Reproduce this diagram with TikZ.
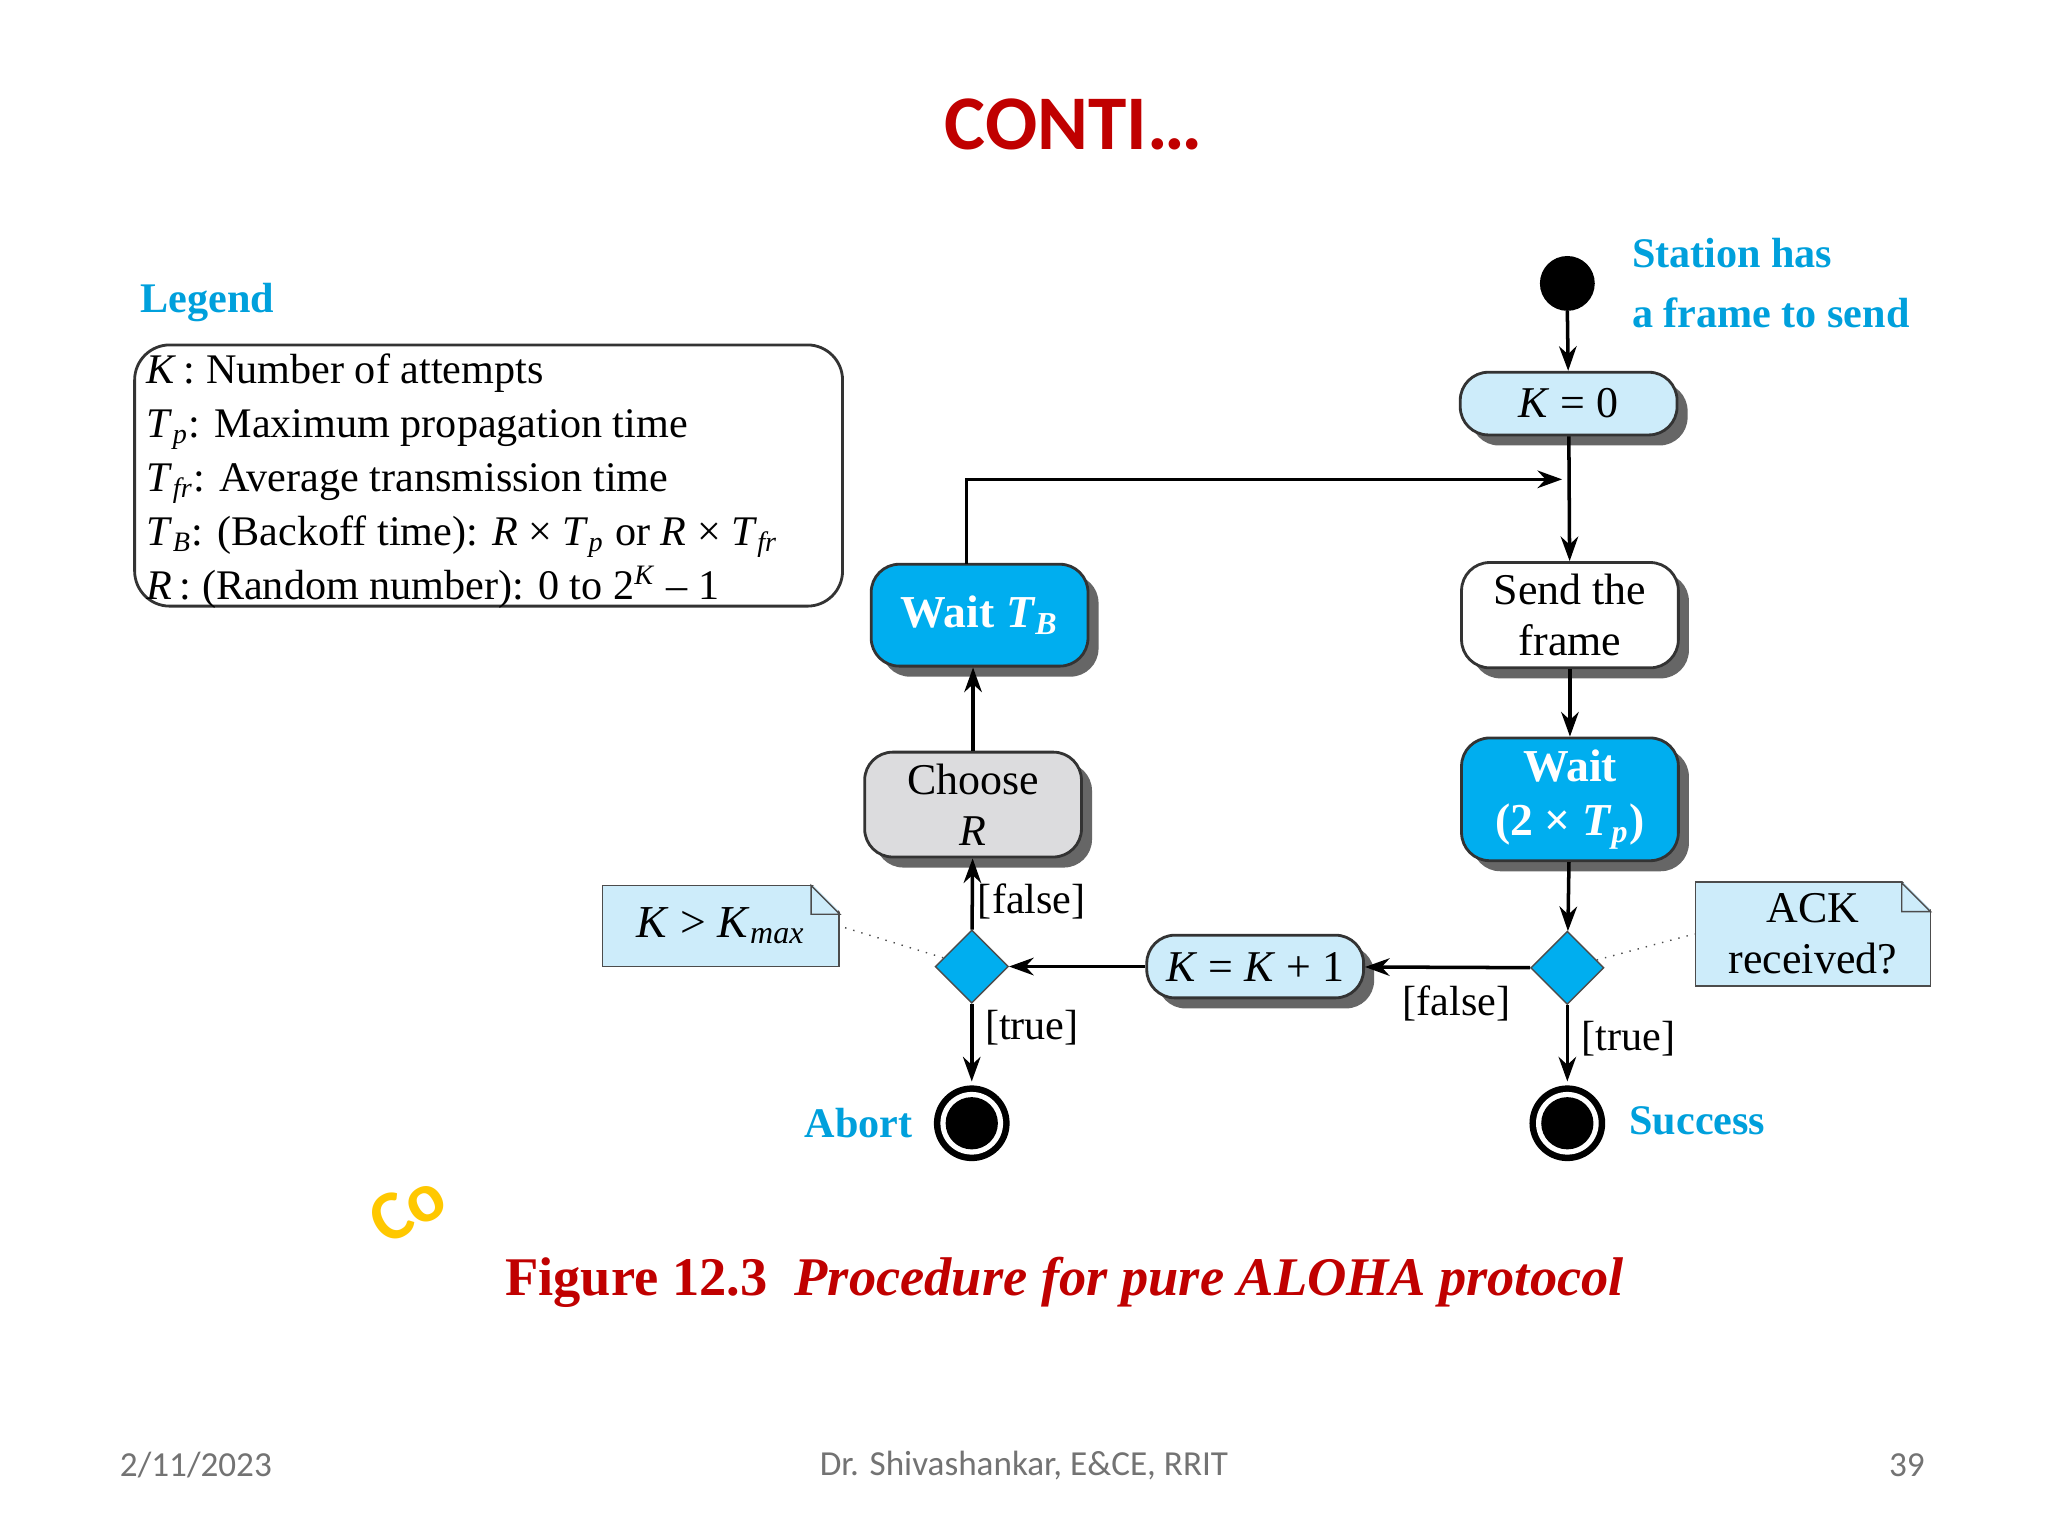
\documentclass[tikz,border=0pt]{standalone}
\usepackage{fontspec}
\setmainfont{Liberation Serif}
\newfontfamily\calfnt{Carlito}
\usetikzlibrary{shapes.geometric,shadows,arrows.meta}
\definecolor{cy}{RGB}{0,174,239}
\definecolor{lb}{RGB}{205,236,250}
\definecolor{dred}{RGB}{192,0,0}
\definecolor{lgray}{RGB}{220,220,222}
\definecolor{cyt}{RGB}{0,160,220}
\newcommand{\mi}[1]{\textit{#1}}
\newcommand{\sbs}[1]{\textsubscript{\textit{#1}}}
\begin{document}
\begin{tikzpicture}[x=0.01306cm,y=-0.01306cm,
 box/.style={draw=black!80,line width=0.8pt,rounded corners=8pt,minimum width=166*0.01306cm,align=center,font=\fontsize{12.5}{14.5}\selectfont,drop shadow={shadow xshift=3pt,shadow yshift=-3pt,fill=black!60,opacity=1}},
 arr/.style={-{Stealth[length=7pt,width=5pt]},line width=1pt},
 lbl/.style={font=\fontsize{12}{14}\selectfont},
 note/.style={draw=black!70,fill=lb,font=\fontsize{12.5}{14.5}\selectfont,align=center},
 dia/.style={diamond,draw=black!70,fill=cy,minimum width=56*0.01306cm,minimum height=56*0.01306cm,inner sep=0},
 cyl/.style={text=cyt,font=\fontsize{12}{14}\bfseries\selectfont}]
\useasboundingbox (0,0) rectangle (1568,1176);
\fill[white] (0,0) rectangle (1568,1176);
\node (title) at (822,95) {\calfnt\bfseries\fontsize{22}{26}\selectfont\color{dred}CONTI\ldots};
% legend
\node[cyl,anchor=west] (legt) at (98,232) {Legend};
\node[draw=black!80,line width=0.8pt,rounded corners=10pt,anchor=north west,minimum width=542*0.01306cm,minimum height=200*0.01306cm,inner sep=0] (leg) at (102,263) {};
\node[anchor=north west,align=left,font=\fontsize{12}{14.4}\selectfont,inner sep=0] (legtxt) at (112,270) {%
\mi{K}\,: Number of attempts\\[1pt]
\mi{T}\sbs{p}: Maximum propagation time\\[1pt]
\mi{T}\sbs{fr}: Average transmission time\\[1pt]
\mi{T}\sbs{B}: (Backoff time): \mi{R} × \mi{T}\sbs{p} or \mi{R} × \mi{T}\sbs{fr}\\[1pt]
\mi{R}\,: (Random number): 0 to 2\textsuperscript{\mi{K}} – 1};
% right column
\fill (1200,217) circle (21) coordinate (start);
\node[cyl,anchor=west,align=left] (st) at (1240,217) {Station has\\[3pt]a frame to send};
\node[box,fill=lb,minimum height=48*0.01306cm] (k0) at (1201,309) {\mi{K} = 0};
\node[box,fill=white,minimum height=78*0.01306cm] (send) at (1202,471) {Send the\\frame};
\node[box,fill=cy,text=white,font=\fontsize{13}{15.5}\bfseries\selectfont,minimum height=88*0.01306cm] (wait) at (1202,612) {Wait\\(2 × \mi{T}\sbs{p})};
\node[dia] (d2) at (1200,741) {};
\node[note,minimum width=180*0.01306cm,minimum height=78*0.01306cm] (ack) at (1388,715) {ACK\\received?};
\fill[white] (1456,674) -- (1480,698) -- (1480,674) -- cycle;
\draw[black!70] (1456,676) -- (1478,698) -- (1456,698) -- cycle;
\fill[black] (1200,860) circle (29);
\fill[white] (1200,860) circle (24);
\fill[black] (1200,860) circle (20) coordinate (succ);
\node[cyl,anchor=west] (sl) at (1238,858) {Success};
% middle
\node[box,fill=lb,minimum height=48*0.01306cm] (kk) at (961,740) {\mi{K} = \mi{K} + 1};
\node[dia] (d1) at (744,740) {};
\node[note,minimum width=181*0.01306cm,minimum height=62*0.01306cm,font=\fontsize{13}{15}\selectfont] (km) at (552,709) {\mi{K} > \mi{K}\sbs{max}};
\fill[white] (621,676) -- (645,700) -- (645,676) -- cycle;
\draw[black!70] (621,678) -- (643,700) -- (621,700) -- cycle;
\node[box,fill=lgray,minimum height=80*0.01306cm] (ch) at (745,616) {Choose\\\mi{R}};
\node[box,fill=cy,text=white,font=\fontsize{13}{15.5}\bfseries\selectfont,minimum height=78*0.01306cm] (wtb) at (750,471) {Wait \mi{T}\sbs{B}};
\fill[black] (744,860) circle (29);
\fill[white] (744,860) circle (24);
\fill[black] (744,860) circle (20) coordinate (ab);
\node[cyl,anchor=east] (al) at (708,860) {Abort};
% connectors
\draw[arr] (1200,238) -- (k0);
\draw[arr] (k0) -- (send);
\draw[arr] (send) -- (wait);
\draw[arr] (wait) -- (d2);
\draw[arr] (d2) -- (1200,828);
\draw[arr] (d2) -- (kk);
\draw[arr] (kk) -- (d1);
\draw[arr] (d1) -- (744,828);
\draw[arr] (d1) -- (ch);
\draw[arr] (ch) -- (ch.north |- wtb.south);
\draw[arr] (740,432) -- (740,367) -- (1196,367);
\draw[dotted,black!70] (d2) -- (ack.west);
\draw[dotted,black!70] (d1) -- (646,710);
\node[lbl] (f1) at (790,690) {[false]};
\node[lbl] (t1) at (790,787) {[true]};
\node[lbl] (f2) at (1115,768) {[false]};
\node[lbl] (t2) at (1247,795) {[true]};
% watermark
\node[rotate=30,text={rgb,255:red,255;green,200;blue,0},font=\calfnt\bfseries\fontsize{20}{22}\selectfont] (co) at (312,925) {Co};
% caption
\node (cap) at (815,982) {\color{dred}\fontsize{15.5}{18}\selectfont\bfseries Figure 12.3\ \ \itshape Procedure for pure ALOHA protocol};
% footer
\node[text=black!55,font=\calfnt\fontsize{10}{12}\selectfont] (d) at (150,1122) {2/11/2023};
\node[text=black!55,font=\calfnt\fontsize{10}{12}\selectfont] (a) at (784,1122) {Dr. Shivashankar, E\&CE, RRIT};
\node[text=black!55,font=\calfnt\fontsize{10}{12}\selectfont] (p) at (1460,1122) {39};
\end{tikzpicture}
\end{document}
